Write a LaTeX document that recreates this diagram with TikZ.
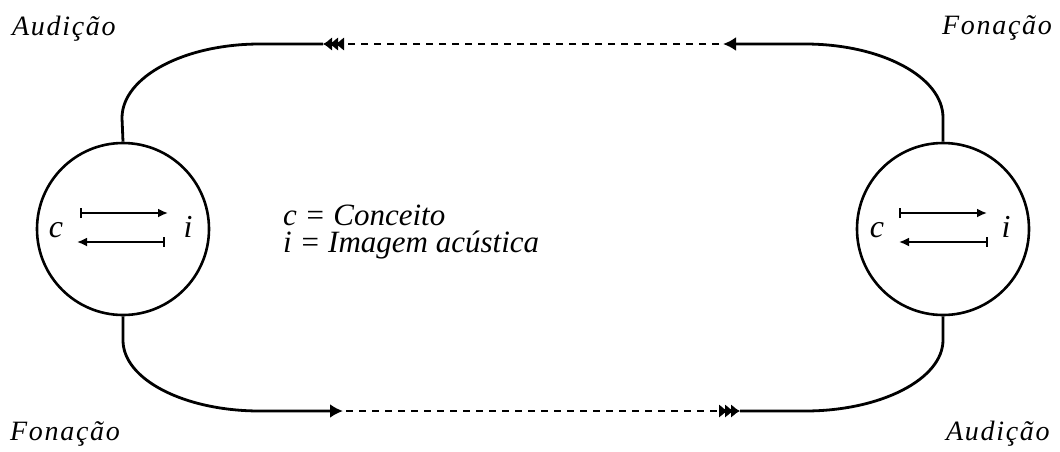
\documentclass[tikz,border=0pt]{standalone}
\usepackage{fontspec}
\setmainfont{Liberation Serif}
\newfontfamily\spacedfont[LetterSpace=6]{Liberation Serif}
\usetikzlibrary{arrows.meta}
\tikzset{
  wire/.style={line width=2.8pt},
  dashwire/.style={line width=2.6pt, dash pattern=on 7pt off 6pt},
  bulb/.style={circle, draw, line width=2.6pt, minimum size=172pt, inner sep=0pt},
  corner/.style={inner sep=0pt, font=\spacedfont\itshape\fontsize{28}{30}\selectfont},
  legend/.style={inner sep=0pt, anchor=base west, align=left, font=\itshape\fontsize{31}{27}\selectfont},
  letter/.style={inner sep=0pt, anchor=base, font=\itshape\fontsize{32}{36}\selectfont},
  inner/.style={line width=1.9pt},
  single/.tip={Latex[length=13pt,width=14pt]},
  triple/.tip={Latex[length=9pt,width=14pt,sep=-3pt] Latex[length=9pt,width=14pt,sep=-3pt] Latex[length=9pt,width=14pt]},
  small/.tip={Latex[length=10pt,width=9pt]},
  barend/.tip={Bar[width=10pt,line width=1.9pt]}
}
\begin{document}
\begin{tikzpicture}[x=1pt,y=-1pt]
\useasboundingbox (0,0) rectangle (1060,451);
% circles
\node[bulb] (L) at (123,229) {};
\node[bulb] (R) at (943,229) {};
% letters
\node[letter] (Lc) at (56,237) {c};
\node[letter] (Li) at (188,237) {i};
\node[letter] (Rc) at (877,237) {c};
\node[letter] (Ri) at (1006,237) {i};
% inner arrows
\coordinate (La1) at (80,213); \coordinate (Lb1) at (168,213);
\coordinate (La2) at (165,242); \coordinate (Lb2) at (77,242);
\coordinate (Ra1) at (899,213); \coordinate (Rb1) at (987,213);
\coordinate (Ra2) at (988,242); \coordinate (Rb2) at (899,242);
\draw[inner, {barend}-{small}] (La1) -- (Lb1);
\draw[inner, {barend}-{small}] (La2) -- (Lb2);
\draw[inner, {barend}-{small}] (Ra1) -- (Rb1);
\draw[inner, {barend}-{small}] (Ra2) -- (Rb2);
% legend
\node[legend] (leg) at (283,252) {c = Conceito\\i = Imagem acústica};
% corner labels
\node[corner, anchor=base west] (aud1) at (12,35) {Audição};
\node[corner, anchor=base west] (fon1) at (942,34) {Fonação};
\node[corner, anchor=base west] (fon2) at (10,440) {Fonação};
\node[corner, anchor=base west] (aud2) at (946,440) {Audição};
% top chain
\coordinate (tR) at (723,44);
\coordinate (tRd) at (719,44);
\coordinate (tL) at (323,44);
\draw[wire, -{single}] (R.north) -- ++(0,-24) .. controls +(0,-41) and +(76,0) .. (805,44) -- (tR);
\draw[dashwire, -{triple}] (tRd) -- (tL);
\draw[wire] (tL) -- (260,44) .. controls +(-76,0) and +(0,-41) .. (122,118) -- (L.north);
% bottom chain
\coordinate (bL) at (343,411);
\coordinate (bLd) at (346,411);
\coordinate (bR) at (740,411);
\draw[wire, -{single}] (L.south) -- ++(0,24) .. controls +(0,39) and +(-76,0) .. (260,411) -- (bL);
\draw[dashwire, -{triple}] (bLd) -- (bR);
\draw[wire] (bR) -- (805,411) .. controls +(76,0) and +(0,39) .. (943,340) -- (R.south);
\end{tikzpicture}
\end{document}
